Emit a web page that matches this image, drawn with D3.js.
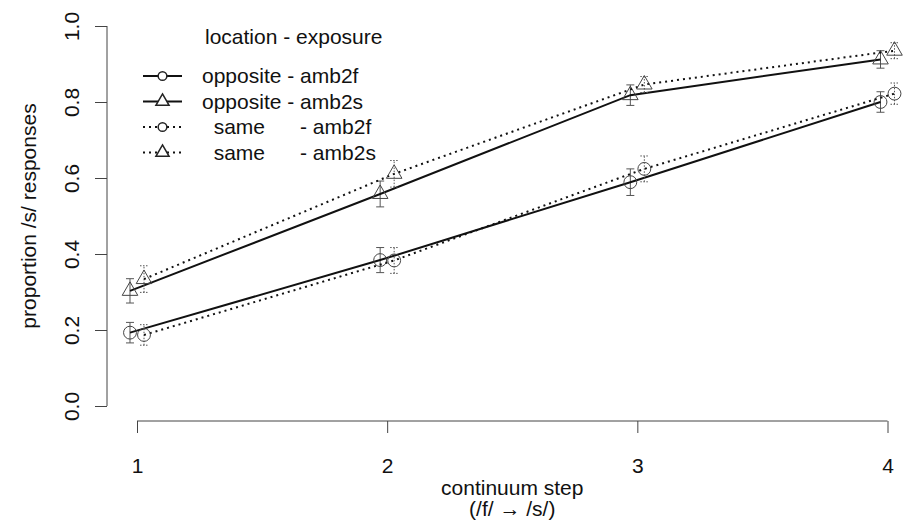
<!DOCTYPE html>
<html>
<head>
<meta charset="utf-8">
<script src="https://cdn.jsdelivr.net/npm/d3@7"></script>
<style>
  body { margin: 0; background: #fff; }
  svg text { font-family: "Liberation Sans", Arial, sans-serif; fill: #111; }
</style>
</head>
<body>
<div id="chart"></div>
<script>
'use strict';

// data
const steps = [1, 2, 3, 4];
const yTicks = [0, 0.2, 0.4, 0.6, 0.8, 1.0];

const oppAmb2f = [0.193, 0.384, 0.589, 0.800];
const oppAmb2s = [0.303, 0.558, 0.818, 0.912];
const sameAmb2f = [0.187, 0.383, 0.624, 0.822];
const sameAmb2s = [0.334, 0.611, 0.846, 0.935];

const oppAmb2fErr = [0.027, 0.033, 0.035, 0.027];
const oppAmb2sErr = [0.032, 0.034, 0.027, 0.023];
const sameAmb2fErr = [0.027, 0.034, 0.034, 0.028];
const sameAmb2sErr = [0.035, 0.035, 0.021, 0.021];

const seriesNames = ['opposite - amb2f', 'opposite - amb2s', '  same      - amb2f', '  same      - amb2s'];

const width = 906, height = 521;
const fontSize = '21px';

const series = [
    {name: seriesNames[0], values: oppAmb2f, errs: oppAmb2fErr, shape: 'circle', dotted: false, shift: -0.028},
    {name: seriesNames[1], values: oppAmb2s, errs: oppAmb2sErr, shape: 'triangle', dotted: false, shift: -0.028},
    {name: seriesNames[2], values: sameAmb2f, errs: sameAmb2fErr, shape: 'circle', dotted: true, shift: 0.028},
    {name: seriesNames[3], values: sameAmb2s, errs: sameAmb2sErr, shape: 'triangle', dotted: true, shift: 0.028}
];

const svg = d3.select('#chart').append('svg')
    .attr('width', width)
    .attr('height', height);

const x = d3.scaleLinear().domain([1, 4]).range([137, 887.5]);
const y = d3.scaleLinear().domain([0, 1]).range([406, 26]);

const axisColor = '#444';

// y axis
const yAxis = svg.append('g')
    .attr('transform', 'translate(107,0)')
    .call(d3.axisLeft(y).tickValues(yTicks).tickFormat(d3.format('.1f')).tickSize(12).tickSizeOuter(0));
yAxis.select('.domain').attr('stroke', axisColor).attr('d', 'M0,' + y(0) + 'V' + y(1));
yAxis.selectAll('.tick line').attr('stroke', axisColor);
yAxis.selectAll('.tick text')
    .attr('transform', 'rotate(-90)')
    .attr('x', 0)
    .attr('y', -28)
    .attr('dy', 0)
    .attr('text-anchor', 'middle')
    .style('font-size', fontSize);

// x axis
const xAxis = svg.append('g')
    .attr('transform', 'translate(0,421)')
    .call(d3.axisBottom(x).tickValues(steps).tickFormat(d3.format('d')).tickSize(12).tickPadding(25).tickSizeOuter(0));
xAxis.select('.domain').attr('stroke', axisColor).attr('d', 'M' + x(1) + ',0H' + x(4));
xAxis.selectAll('.tick line').attr('stroke', axisColor);
xAxis.selectAll('.tick text').style('font-size', fontSize);

svg.selectAll('.domain, .tick line').attr('stroke-width', 1);
svg.selectAll('.tick text').attr('fill', '#111');

// axis titles
svg.append('text')
    .attr('x', (x(1) + x(4)) / 2).attr('y', 495)
    .attr('text-anchor', 'middle')
    .style('font-size', fontSize)
    .text('continuum step');
svg.append('text')
    .attr('x', (x(1) + x(4)) / 2).attr('y', 516)
    .attr('text-anchor', 'middle')
    .style('font-size', fontSize)
    .text('(/f/ \u2192 /s/)');
svg.append('text')
    .attr('transform', 'translate(36,' + ((y(0) + y(1)) / 2) + ') rotate(-90)')
    .attr('text-anchor', 'middle')
    .style('font-size', fontSize)
    .text('proportion /s/ responses');

const symbolFor = function (shape, small) {
    if (shape === 'circle') {
        return d3.symbol().type(d3.symbolCircle).size(small ? 60 : 130)();
    }
    return d3.symbol().type(d3.symbolTriangle).size(small ? 75 : 105)();
};

const line = d3.line()
    .x(function (d) { return d.px; })
    .y(function (d) { return d.py; });

series.forEach(function (s) {
    const pts = steps.map(function (st, i) {
        return {px: x(st + s.shift), py: y(s.values[i]), lo: y(s.values[i] - s.errs[i]), hi: y(s.values[i] + s.errs[i])};
    });
    const g = svg.append('g');

    // error bars
    const eb = g.selectAll('.err').data(pts).enter().append('g')
        .attr('stroke', '#555')
        .attr('stroke-width', 1)
        .attr('fill', 'none')
        .attr('stroke-dasharray', s.dotted ? '1.5,1.5' : null);
    eb.append('line')
        .attr('x1', function (d) { return d.px; }).attr('x2', function (d) { return d.px; })
        .attr('y1', function (d) { return d.lo; }).attr('y2', function (d) { return d.hi; });
    eb.append('line')
        .attr('x1', function (d) { return d.px - 4; }).attr('x2', function (d) { return d.px + 4; })
        .attr('y1', function (d) { return d.lo; }).attr('y2', function (d) { return d.lo; });
    eb.append('line')
        .attr('x1', function (d) { return d.px - 4; }).attr('x2', function (d) { return d.px + 4; })
        .attr('y1', function (d) { return d.hi; }).attr('y2', function (d) { return d.hi; });

    // connecting line
    g.append('path')
        .datum(pts)
        .attr('d', line)
        .attr('fill', 'none')
        .attr('stroke', '#111')
        .attr('stroke-width', 2)
        .attr('stroke-dasharray', s.dotted ? '2,4' : null);

    // markers
    g.selectAll('.mk').data(pts).enter().append('path')
        .attr('transform', function (d) { return 'translate(' + d.px + ',' + d.py + ')'; })
        .attr('d', symbolFor(s.shape, false))
        .attr('fill', 'none')
        .attr('stroke', '#444')
        .attr('stroke-width', 1);
});

// legend
const legend = svg.append('g');
legend.append('text')
    .attr('x', 205).attr('y', 44)
    .style('font-size', fontSize)
    .text('location - exposure');

const rows = legend.selectAll('.row').data(series).enter().append('g')
    .attr('transform', function (d, i) { return 'translate(0,' + (76 + i * 25.5) + ')'; });
rows.append('line')
    .attr('x1', 143).attr('x2', 182).attr('y1', 0).attr('y2', 0)
    .attr('stroke', '#111')
    .attr('stroke-width', 2)
    .attr('stroke-dasharray', function (d) { return d.dotted ? '2,4' : null; });
rows.append('path')
    .attr('transform', 'translate(162.5,0)')
    .attr('d', function (d) { return symbolFor(d.shape, true); })
    .attr('fill', '#fff')
    .attr('stroke', '#222')
    .attr('stroke-width', 1.5);
rows.append('text')
    .attr('x', 202).attr('y', 7)
    .style('font-size', fontSize)
    .style('white-space', 'pre')
    .text(function (d) { return d.name; });
</script>
</body>
</html>
